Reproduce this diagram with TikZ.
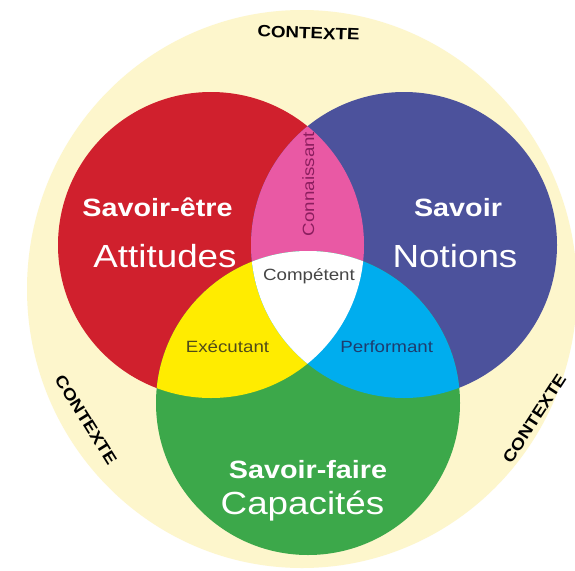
\documentclass[tikz,border=0pt]{standalone}
\usepackage{fontspec}
\setmainfont{Liberation Sans}
\newfontfamily\lab[FakeStretch=1.15]{Liberation Sans}
\definecolor{cream}{RGB}{253,246,204}
\definecolor{cred}{RGB}{208,32,45}
\definecolor{cblue}{RGB}{76,82,156}
\definecolor{cgreen}{RGB}{60,168,74}
\definecolor{cpink}{RGB}{233,89,164}
\definecolor{cyellow}{RGB}{255,236,0}
\definecolor{ccyan}{RGB}{0,173,238}
\definecolor{tconn}{RGB}{140,30,95}
\definecolor{tcomp}{RGB}{70,70,70}
\definecolor{texec}{RGB}{80,75,25}
\definecolor{tperf}{RGB}{30,60,110}
\tikzset{
  ctx/.style={font=\lab\bfseries\fontsize{16.3}{18}\selectfont, text=black, inner sep=0pt},
  bigbold/.style={font=\lab\bfseries\fontsize{25}{28}\selectfont, text=white, inner sep=0pt, anchor=base},
  bigreg/.style={font=\lab\fontsize{32}{36}\selectfont, text=white, inner sep=0pt, anchor=base},
  small/.style={font=\lab\fontsize{16.3}{18}\selectfont, inner sep=0pt, anchor=base}
}
\begin{document}
\begin{tikzpicture}[x=1pt,y=-1pt]
\useasboundingbox (0,0) rectangle (575,570);
\fill[white] (0,0) rectangle (575,570);
% context disc
\fill[cream] (302,289) ellipse[x radius=275pt, y radius=279pt];
% main circles
\coordinate (R) at (211,245);
\coordinate (B) at (404,245);
\coordinate (G) at (308,403);
\fill[cred] (R) circle[radius=153pt];
\fill[cblue] (B) circle[radius=153pt];
\fill[cgreen] (G) circle[radius=152pt];
% intersections
\begin{scope}
  \clip (R) circle[radius=153pt];
  \fill[cpink] (B) circle[radius=153pt];
  \fill[cyellow] (G) circle[radius=152pt];
\end{scope}
\begin{scope}
  \clip (B) circle[radius=153pt];
  \fill[ccyan] (G) circle[radius=152pt];
\end{scope}
\begin{scope}
  \clip (R) circle[radius=153pt];
  \clip (B) circle[radius=153pt];
  \fill[white] (G) circle[radius=152pt];
\end{scope}
% context labels
\node[ctx, rotate=-2] (ctxtop) at (308.5,33) {CONTEXTE};
\node[ctx, rotate=-58] (ctxleft) at (86,420) {CONTEXTE};
\node[ctx, rotate=57] (ctxright) at (534.5,418.5) {CONTEXTE};
% main labels
\node[bigbold] (se) at (157.5,216) {Savoir-être};
\node[bigreg] (att) at (165,267) {Attitudes};
\node[bigbold] (sv) at (458,216.5) {Savoir};
\node[bigreg] (not) at (455,267) {Notions};
\node[bigbold] (sf) at (308,478) {Savoir-faire};
\node[bigreg] (cap) at (302.5,514) {Capacités};
% intersection labels
\node[small, text=tconn, rotate=90] (conn) at (314,184) {Connaissant};
\node[small, text=tcomp] (comp) at (309,280) {Compétent};
\node[small, text=texec] (exec) at (227.5,352) {Exécutant};
\node[small, text=tperf] (perf) at (386.7,352) {Performant};
\end{tikzpicture}
\end{document}
